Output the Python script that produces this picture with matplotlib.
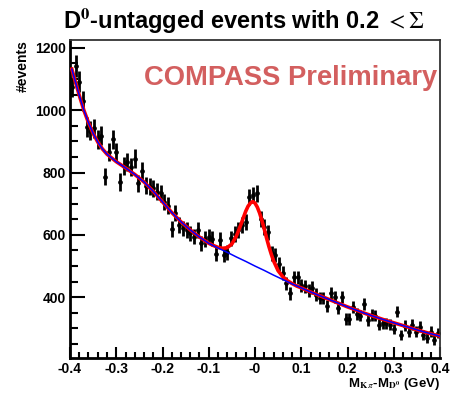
import numpy as np
import matplotlib
matplotlib.use("Agg")
import matplotlib.pyplot as plt
from matplotlib.ticker import MultipleLocator, FixedLocator

plt.rcParams['font.family'] = ['Liberation Sans', 'DejaVu Sans']
plt.rcParams['mathtext.fontset'] = 'stix'

# ---- data (bin centres, counts) ----
bin_width = 0.008
x_first = -0.396
counts = [1075, 1142, 1092, 1030, 946, 934, 942, 907, 918, 787,
          867, 907, 865, 770, 822, 833, 817, 845, 766, 804,
          758, 755, 749, 738, 733, 706, 694, 619, 669, 632,
          621, 616, 605, 594, 616, 573, 587, 594, 588, 540,
          585, 536, 544, 589, 603, 616, 632, 642, 722, 728,
          733, 651, 626, 608, 541, 536, 507, 477, 445, 413,
          464, 464, 438, 435, 421, 430, 408, 398, 398, 372,
          412, 400, 366, 400, 330, 330, 368, 346, 341, 379,
          327, 343, 341, 311, 317, 317, 311, 298, 354, 279,
          309, 288, 311, 290, 306, 279, 268, 290, 263, 285]

# background fit curve (blue)
bkg_x = [-0.396, -0.39, -0.38, -0.37, -0.36, -0.35, -0.34, -0.33, -0.32, -0.30,
         -0.28, -0.26, -0.24, -0.22, -0.20, -0.18, -0.16, -0.14, -0.12, -0.10,
         -0.08, -0.06, -0.04, -0.02, 0.00, 0.02, 0.04, 0.06, 0.08, 0.10,
         0.12, 0.14, 0.16, 0.18, 0.20, 0.22, 0.24, 0.26, 0.28, 0.30,
         0.32, 0.34, 0.36, 0.38, 0.40]
bkg_y = [1132, 1100, 1048, 1000, 960, 926, 898, 876, 859, 835,
         815, 794, 770, 740, 706, 672, 642, 616, 593, 573,
         558, 544, 529, 515, 500, 486, 471, 457, 443, 430,
         417, 405, 393, 381, 369, 358, 347, 337, 327, 318,
         309, 300, 291, 283, 275]

# total fit curve in the peak region (red)
peak_x = [-0.10, -0.09, -0.08, -0.07, -0.06, -0.05, -0.04, -0.035, -0.03, -0.025,
          -0.02, -0.015, -0.01, -0.005, 0.0, 0.005, 0.01, 0.015, 0.02, 0.025,
          0.03, 0.035, 0.04, 0.05, 0.06, 0.07, 0.08, 0.09, 0.10]
peak_y = [573, 566, 560, 557, 559, 571, 597, 616, 635, 656,
          676, 692, 702, 707, 702, 689, 670, 646, 619, 590,
          563, 539, 517, 485, 466, 453, 444, 436, 430]

xticks = [-0.4, -0.3, -0.2, -0.1, 0.0, 0.1, 0.2, 0.3, 0.4]
xticklabels = ["-0.4", "-0.3", "-0.2", "-0.1", "-0", "0.1", "0.2", "0.3", "0.4"]
yticks = [400, 600, 800, 1000, 1200]

# ---- figure ----
fig = plt.figure(figsize=(4.5, 3.93), dpi=100)
ax = fig.add_axes([70/450, 1-358/393, 370/450, (358-39.5)/393])

xc = x_first + bin_width*np.arange(len(counts))
yv = np.array(counts, dtype=float)
ax.errorbar(xc, yv, yerr=np.sqrt(yv), fmt='o', color='black', ms=2.4,
            elinewidth=2.0, capsize=0, zorder=2)

# red total curve: background outside peak window + peak samples
bx = np.array(bkg_x); by = np.array(bkg_y)
left = bx < peak_x[0]
right = bx > peak_x[-1]
red_x = np.concatenate([bx[left], peak_x, bx[right]])
red_y = np.concatenate([by[left], peak_y, by[right]])
ax.plot(red_x, red_y, color='#ff0000', lw=2.6, zorder=3, solid_joinstyle='round')
ax.plot(bx, by, color='#0000ff', lw=1.1, zorder=4)

ax.set_xlim(-0.4, 0.4)
ax.set_ylim(205, 1227)

ax.xaxis.set_major_locator(FixedLocator(xticks))
ax.set_xticklabels(xticklabels)
ax.xaxis.set_minor_locator(MultipleLocator(0.02))
ax.yaxis.set_major_locator(FixedLocator(yticks))
ax.yaxis.set_minor_locator(MultipleLocator(50))

ax.tick_params(axis='both', which='both', direction='in', top=False, right=False,
               labelsize=10, width=1.5)
ax.tick_params(axis='y', which='major', length=11)
ax.tick_params(axis='y', which='minor', length=6)
ax.tick_params(axis='x', which='major', length=8)
ax.tick_params(axis='x', which='minor', length=4.5)
for lab in ax.get_xticklabels() + ax.get_yticklabels():
    lab.set_fontweight('bold')
ax.tick_params(axis='x', pad=3)
ax.tick_params(axis='y', pad=3)

for s in ['left', 'bottom']:
    ax.spines[s].set_linewidth(2.0)
for s in ['top', 'right']:
    ax.spines[s].set_linewidth(1.3)
    ax.spines[s].set_color('#333333')

fig.text(244/450, 1-28/393, r"D$^{\mathbf{0}}$-untagged events with 0.2 ${<}\Sigma$",
         ha='center', va='baseline', fontsize=17, fontweight='bold')
ax.text(0.992, 0.879, "COMPASS Preliminary", transform=ax.transAxes,
        ha='right', va='center', fontsize=19.7, fontweight='bold', color='#d35f5f')
fig.text(23/450, 1-40/393, "#events", rotation=90, ha='center', va='top',
         fontsize=10, fontweight='bold')
fig.text(440/450, 1-387.5/393, r"M$_{\mathbf{K}\,\pi}$-M$_{\mathbf{D^0}}$ (GeV)",
         ha='right', va='baseline', fontsize=9.5, fontweight='bold')

fig.savefig("out.png", dpi=100)
